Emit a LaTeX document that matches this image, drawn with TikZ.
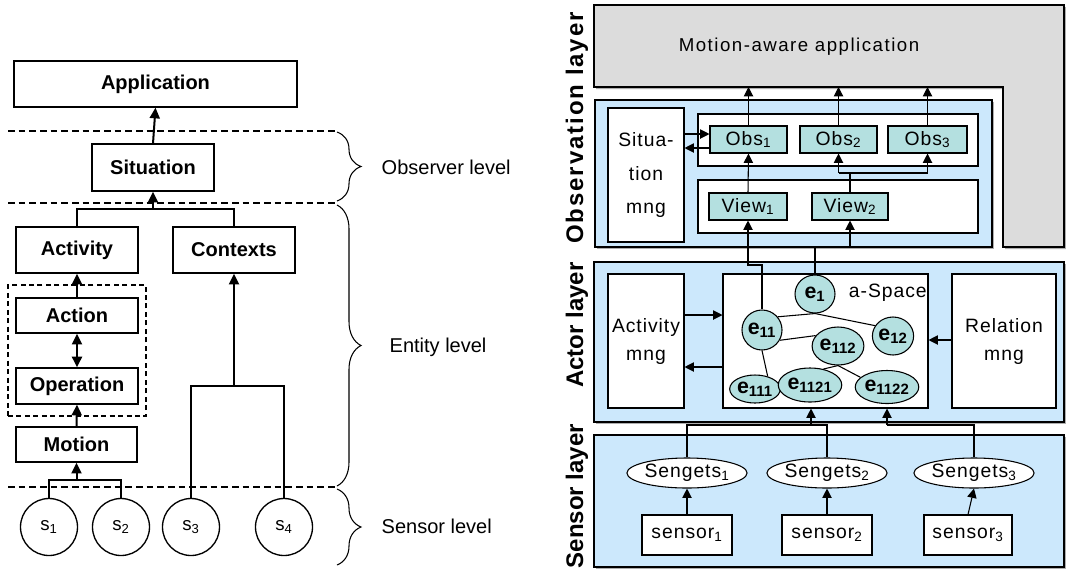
\documentclass[tikz,border=0pt]{standalone}
\usepackage{fontspec}
\setmainfont{Liberation Sans}
\usetikzlibrary{arrows.meta,decorations.pathreplacing,fit,shapes.geometric,shadows}
\definecolor{layerblue}{RGB}{204,232,252}
\definecolor{nodeteal}{RGB}{180,224,224}
\definecolor{appgray}{RGB}{220,220,220}
\newcommand\pxu{0.75pt}
\newcommand\rtxt{\fontsize{14.5}{17}\selectfont\addfontfeature{LetterSpace=5}}
\begin{document}
\begin{tikzpicture}[x=0.75pt,y=-0.75pt,
  wh/.style 2 args={minimum width={#1*\pxu},minimum height={#2*\pxu}},
  lbox/.style={draw,line width=1pt,inner sep=0pt,font=\fontsize{15}{18}\selectfont\bfseries},
  lconn/.style={line width=1.5pt},
  larr/.style={line width=1.5pt,-{Triangle[length=8pt,width=7.5pt]}},
  ldarr/.style={line width=1.5pt,{Triangle[length=8pt,width=7.5pt]}-{Triangle[length=8pt,width=7.5pt]}},
  sens/.style={circle,draw,line width=1pt,inner sep=0pt,minimum size={57*\pxu},font=\fontsize{14}{16}\selectfont},
  lvl/.style={line width=1pt,dash pattern=on 5pt off 3pt},
  brc/.style={decorate,decoration={brace,amplitude=18pt},line width=0.8pt},
  lvltxt/.style={anchor=west,font=\fontsize{15}{18}\selectfont},
  rline/.style={line width=0.8pt},
  rarr/.style={line width=0.8pt,-{Triangle[length=7pt,width=7pt]}},
  rbox/.style={draw,line width=0.8pt,fill=white,inner sep=0pt,font=\rtxt},
  tbox/.style={rbox,fill=nodeteal},
  layer/.style={draw,line width=0.8pt,fill=layerblue,inner sep=0pt,
    drop shadow={shadow xshift=1.5pt,shadow yshift=-1.5pt,opacity=0.45,fill=black!70}},
  enode/.style={ellipse,draw,line width=0.8pt,fill=nodeteal,inner sep=0pt,font=\fontsize{16}{18}\selectfont\bfseries},
  sell/.style={ellipse,draw,line width=0.8pt,fill=white,inner sep=0pt,font=\rtxt},
  laylbl/.style={rotate=90,font=\fontsize{18}{20}\selectfont\bfseries}
]
\useasboundingbox (0,0) rectangle (1066,569);

% ================= LEFT =================
\node[lbox,wh={283}{46}] (app) at (155.5,84) {Application};
\node[lbox,wh={122}{47}] (sit) at (153,167.5) {Situation};
\node[lbox,wh={122}{46}] (act) at (77,250) {Activity};
\node[lbox,wh={122}{46}] (ctx) at (234,250) {Contexts};
\node[draw,line width=1pt,dash pattern=on 3.75pt off 2.6pt,inner sep=0pt,fit={(8,285) (146,416)}] (grp) {};
\node[lbox,wh={122}{35}] (action) at (77,315.5) {Action};
\node[lbox,wh={122}{36}] (oper) at (77,386) {Operation};
\node[lbox,wh={121}{35}] (motion) at (76.5,444.5) {Motion};
\node[sens] (s1) at (49,527) {s\textsubscript{1}};
\node[sens] (s2) at (121,527) {s\textsubscript{2}};
\node[sens] (s3) at (191,527) {s\textsubscript{3}};
\node[sens] (s4) at (284,527) {s\textsubscript{4}};

\draw[larr] (sit.north) -- (app.south);
\coordinate (j1) at (154,209);
\draw[lconn] (act.north) -- (act.north |- j1) -- (ctx.north |- j1) -- (ctx.north);
\draw[larr] (sit.south |- j1) -- (sit.south);
\draw[larr] (action.north) -- (act.south);
\draw[ldarr] (oper.north) -- (action.south);
\draw[larr] (motion.north) -- (oper.south);
\coordinate (j2) at (77,480);
\draw[lconn] (s1.north) -- (s1.north |- j2) -- (s2.north |- j2) -- (s2.north);
\draw[larr] (motion.south |- j2) -- (motion.south);
\coordinate (j3) at (234,386);
\draw[lconn] (s3.north) -- (s3.north |- j3) -- (s4.north |- j3) -- (s4.north);
\draw[larr] (ctx.south |- j3) -- (ctx.south);

% level separators
\coordinate (d1a) at (8,131); \coordinate (d1b) at (337,131);
\coordinate (d2a) at (8,203); \coordinate (d2b) at (337,203);
\coordinate (d3a) at (8,487); \coordinate (d3b) at (337,487);
\draw[lvl] (d1a) -- (d1b);
\draw[lvl] (d2a) -- (d2b);
\draw[lvl] (d3a) -- (d3b);

% braces
\draw[brc] (337,132) -- (337,201);
\draw[brc] (337,205) -- (337,486);
\draw[brc] (337,489) -- (337,565);
\node[lvltxt] (obsl) at (377,167) {Observer level};
\node[lvltxt] (entl) at (385,347) {Entity level};
\node[lvltxt] (senl) at (377,526) {Sensor level};

% ================= RIGHT =================
\draw[line width=0.8pt,fill=appgray,drop shadow={shadow xshift=1.5pt,shadow yshift=-1.5pt,opacity=0.45,fill=black!70}]
  (594,5) -- (1064,5) -- (1064,247) -- (1003,247) -- (1003,87) -- (594,87) -- cycle;
\node[font=\fontsize{14}{16}\selectfont\addfontfeature{LetterSpace=8}] (apptxt) at (799,47) {Motion-aware application};
\coordinate (appb) at (0,87);

\node[layer,fit={(595,100) (992,247)}] (obsL) {};
\node[layer,fit={(594,262) (1064,422)}] (actL) {};
\node[layer,fit={(594,435) (1064,567)}] (senL) {};

\node[laylbl,font=\fontsize{18}{20}\selectfont\bfseries\addfontfeature{LetterSpace=8}] (lobs) at (577,128) {Observation layer};
\node[laylbl] (lact) at (577,325) {Actor layer};
\node[laylbl] (lsen) at (577,496) {Sensor layer};

% observation layer
\node[rbox,align=center,font=\fontsize{14.5}{25}\selectfont\addfontfeature{LetterSpace=5},wh={76}{134}] (sitm) at (646,175) {Situa-\\tion\\mng};
\node[rbox,fit={(698,114) (978,166)}] (obsC) {};
\node[rbox,fit={(698,180) (978,233)}] (viewC) {};
\node[tbox,wh={77}{27}] (obs1) at (748.5,139.5) {Obs\textsubscript{1}};
\node[tbox,wh={77}{27}] (obs2) at (838.5,139.5) {Obs\textsubscript{2}};
\node[tbox,wh={79}{27}] (obs3) at (927.5,139.5) {Obs\textsubscript{3}};
\node[tbox,wh={78}{27}] (view1) at (748,206.5) {View\textsubscript{1}};
\node[tbox,wh={76}{27}] (view2) at (850,206.5) {View\textsubscript{2}};

\draw[rarr] (obs1.north) -- (obs1.north |- appb);
\draw[rarr] (obs2.north) -- (obs2.north |- appb);
\draw[rarr] (obs3.north) -- (obs3.north |- appb);
\draw[rarr] (view1.north) -- (obs1.south);
\coordinate (j4) at (0,173);
\draw[rline] (view2.north) -- (view2.north |- j4);
\draw[rline] (obs2.south |- j4) -- (obs3.south |- j4);
\draw[rarr] (obs2.south |- j4) -- (obs2.south);
\draw[rarr] (obs3.south |- j4) -- (obs3.south);
\coordinate (y134) at (0,134);
\coordinate (y148) at (0,148);
\draw[rarr] (sitm.east |- y134) -- (obs1.west |- y134);
\draw[rarr] (obs1.west |- y148) -- (sitm.east |- y148);

% actor layer
\node[rbox,align=center,font=\fontsize{14.5}{21}\selectfont\addfontfeature{LetterSpace=5},wh={76}{134}] (actm) at (646,341) {Activity\\mng};
\node[rbox,fit={(723,274) (928,408)}] (asp) {};
\node[rbox,align=center,font=\fontsize{14.5}{21}\selectfont\addfontfeature{LetterSpace=5},wh={104}{134}] (relm) at (1004,341) {Relation\\mng};
\node[anchor=east,inner sep=0pt,font=\rtxt] (asplbl) at (927,293) {a-Space};

\node[enode,wh={40}{38}] (e1) at (815,294) {e\textsubscript{1}};
\node[enode,wh={40}{40}] (e11) at (762,330) {e\textsubscript{11}};
\node[enode,wh={37}{38}] (e12) at (893,336) {e\textsubscript{12}};
\node[enode,wh={40}{38}] (e112) at (838,346) {e\textsubscript{112}};
\node[enode,wh={46}{28}] (e111) at (755,389) {e\textsubscript{111}};
\node[enode,wh={46}{34}] (e1121) at (810,385) {e\textsubscript{1121}};
\node[enode,wh={47}{33}] (e1122) at (887,387) {e\textsubscript{1122}};

\draw[rline] (e1.south) -- (e11.40);
\draw[rline] (e1.south) -- (e12.150);
\draw[rline] (e11.-30) -- (e112.155);
\draw[rline] (e11.south) -- (e111.45);
\draw[rline] (e112.south) -- (e1121.50);
\draw[rline] (e112.south) -- (e1122.160);

\coordinate (j5) at (0,265);
\draw[rarr] (e11.north) -- (e11.north |- j5) -- (view1.south |- j5) -- (view1.south);
\coordinate (j6) at (0,247);
\draw[rarr] (e1.north) -- (e1.north |- j6) -- (view2.south |- j6) -- (view2.south);

\coordinate (y315) at (0,315);
\coordinate (y367) at (0,367);
\coordinate (y340) at (0,340);
\draw[rarr] (actm.east |- y315) -- (asp.west |- y315);
\draw[rarr] (asp.west |- y367) -- (actm.east |- y367);
\draw[rarr] (relm.west |- y340) -- (asp.east |- y340);

% sensor layer
\node[sell,wh={116}{30}] (sg1) at (687,473) {Sengets\textsubscript{1}};
\node[sell,wh={116}{30}] (sg2) at (827,473) {Sengets\textsubscript{2}};
\node[sell,wh={116}{30}] (sg3) at (974,473) {Sengets\textsubscript{3}};
\node[rbox,wh={90}{40}] (sn1) at (687,535) {sensor\textsubscript{1}};
\node[rbox,wh={90}{40}] (sn2) at (827,535) {sensor\textsubscript{2}};
\node[rbox,wh={88}{40}] (sn3) at (968,535) {sensor\textsubscript{3}};
\draw[rarr] (sn1.north) -- (sg1.south);
\draw[rarr] (sn2.north) -- (sg2.south);
\draw[rarr] (sn3.north) -- (sg3.south);

\coordinate (j7) at (811,425);
\coordinate (j8) at (887,425);
\draw[rline] (sg1.north) -- (sg1.north |- j7) -- (sg2.north |- j7) -- (sg2.north);
\draw[rarr] (j7) -- (j7 |- asp.south);
\draw[rline] (sg3.north) -- (sg3.north |- j8) -- (j8);
\draw[rarr] (j8) -- (j8 |- asp.south);
\end{tikzpicture}
\end{document}
